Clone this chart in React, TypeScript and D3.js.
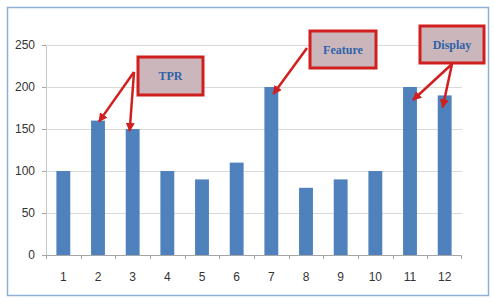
import React from "react";
import * as d3 from "d3";

const categories = ["1", "2", "3", "4", "5", "6", "7", "8", "9", "10", "11", "12"];
const values = [100, 160, 150, 100, 90, 110, 200, 80, 90, 100, 200, 190];
const yTicks = [0, 50, 100, 150, 200, 250];

const calloutLabels = ["TPR", "Feature", "Display"];
const calloutTargets = [["2", "3"], ["7"], ["11", "12"]];

const W = 494;
const H = 304;
const M = { left: 46, right: 32, top: 45, bottom: 49 };

export default function App() {
  const x = d3
    .scaleBand<string>()
    .domain(categories)
    .range([M.left, W - M.right])
    .paddingInner(0.6)
    .paddingOuter(0.3);
  const xb = d3.scaleBand<string>().domain(categories).range([M.left, W - M.right]);
  const y = d3.scaleLinear().domain([0, 250]).range([H - M.bottom, M.top]);

  const boxes = [
    { x: 138, y: 57, w: 65, h: 38, ox: 134, oy: 72, tips: [[1, 1], [-3, 2]] },
    { x: 310, y: 31, w: 66, h: 37, ox: 307, oy: 48, tips: [[2, 7]] },
    { x: 420, y: 26, w: 64, h: 37, ox: 452, oy: 64, tips: [[3, 13], [-2, 12]] },
  ];

  const axisColor = "#a6a6a6";
  const red = "#d11f1f";
  const font = "'Liberation Sans', Arial, sans-serif";

  return (
    <svg
      width={W}
      height={H}
      style={{ position: "absolute", left: 0, top: 0, background: "#fff" }}
    >
      <defs>
        <marker
          id="ah"
          viewBox="0 0 10 10"
          refX="9"
          refY="5"
          markerWidth="3.6"
          markerHeight="3.6"
          orient="auto"
          markerUnits="strokeWidth"
        >
          <path d="M0,0 L10,5 L0,10 z" fill={red} />
        </marker>
      </defs>
      <rect x={0} y={0} width={W} height={H} fill="#fff" />
      <rect x={7.5} y={7.5} width={481} height={288} fill="#fff" stroke="#8fb0d6" strokeWidth={1.5} />

      {/* gridlines */}
      {yTicks.map((t) => (
        <line
          key={"g" + t}
          x1={M.left}
          x2={W - M.right}
          y1={Math.round(y(t)) + 0.5}
          y2={Math.round(y(t)) + 0.5}
          stroke={t === 0 ? axisColor : "#d9d9d9"}
          strokeWidth={1}
        />
      ))}
      {/* y axis line */}
      <line x1={M.left + 0.5} x2={M.left + 0.5} y1={y(250)} y2={y(0)} stroke="#c8c8c8" />
      {yTicks.map((t) => (
        <g key={"yt" + t}>
          <line
            x1={M.left - 4}
            x2={M.left}
            y1={Math.round(y(t)) + 0.5}
            y2={Math.round(y(t)) + 0.5}
            stroke={axisColor}
          />
          <text
            x={35}
            y={y(t)}
            dy="0.35em"
            textAnchor="end"
            fontFamily={font}
            fontSize={12}
            fill="#333"
          >
            {t}
          </text>
        </g>
      ))}

      {/* x ticks */}
      {categories.map((c) => (
        <line
          key={"xt" + c}
          x1={Math.round(xb(c)!) + 0.5}
          x2={Math.round(xb(c)!) + 0.5}
          y1={y(0)}
          y2={y(0) + 4}
          stroke={axisColor}
        />
      ))}
      <line
        x1={W - M.right - 0.5}
        x2={W - M.right - 0.5}
        y1={y(0)}
        y2={y(0) + 4}
        stroke={axisColor}
      />

      {/* bars */}
      {values.map((v, i) => (
        <rect
          key={"b" + i}
          x={x(categories[i])}
          y={y(v)}
          width={x.bandwidth()}
          height={y(0) - y(v)}
          fill="#4f81bd"
        />
      ))}

      {categories.map((c) => (
        <text
          key={"xl" + c}
          x={xb(c)! + xb.bandwidth() / 2}
          y={281}
          textAnchor="middle"
          fontFamily={font}
          fontSize={12}
          fill="#333"
        >
          {c}
        </text>
      ))}

      {/* callouts */}
      {boxes.map((b, i) => (
        <g key={"c" + i}>
          {calloutTargets[i].map((cat, j) => {
            const vi = categories.indexOf(cat);
            const tx = xb(cat)! + xb.bandwidth() / 2 + b.tips[j][0];
            const ty = y(values[vi]) + b.tips[j][1];
            return (
              <line
                key={"a" + j}
                x1={b.ox}
                y1={b.oy}
                x2={tx}
                y2={ty}
                stroke={red}
                strokeWidth={2.5}
                markerEnd="url(#ah)"
              />
            );
          })}
          <rect
            x={b.x}
            y={b.y}
            width={b.w}
            height={b.h}
            fill="#cbb7bb"
            stroke={red}
            strokeWidth={3}
          />
          <text
            x={b.x + b.w / 2}
            y={b.y + b.h / 2}
            dy="0.35em"
            textAnchor="middle"
            fontFamily="'Liberation Serif', 'DejaVu Serif', serif"
            fontWeight="bold"
            fontSize={12}
            fill="#2f62a8"
          >
            {calloutLabels[i]}
          </text>
        </g>
      ))}
    </svg>
  );
}
